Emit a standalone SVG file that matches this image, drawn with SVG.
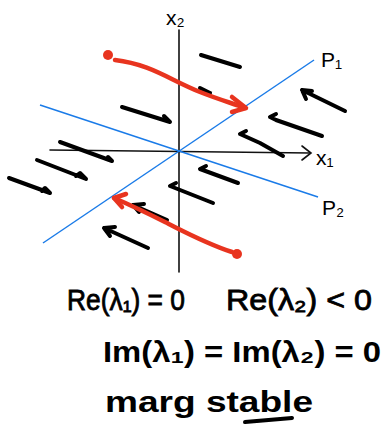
<svg xmlns="http://www.w3.org/2000/svg" width="383" height="433" viewBox="0 0 383 433">
<style>
.ax{stroke:#111;stroke-width:1.6;fill:none;stroke-linecap:round}
.bl{stroke:#1a7be8;stroke-width:1.5;fill:none}
.fl{stroke:#000;stroke-width:4;fill:none;stroke-linecap:round;stroke-linejoin:round}
.rd{stroke:#e8341f;stroke-width:4.5;fill:none;stroke-linecap:round;stroke-linejoin:round}
.t{font-family:"Liberation Sans","DejaVu Sans",Arial,sans-serif;fill:#000}
.m{stroke:#000;stroke-width:0.8}
.b{font-weight:bold}
</style>
<rect width="383" height="433" fill="#fff"/>
<g id="axes">
<line class="ax" x1="179" y1="30" x2="179" y2="272"/>
<line class="ax" x1="50" y1="150" x2="310" y2="153"/>
<path class="ax" d="M302,146 L311,153 L302,160"/>
<text class="t" x="166" y="25" font-size="21">x₂</text>
<text class="t" x="316" y="165" font-size="21">x₁</text>
</g>
<g id="eigenlines">
<line class="bl" x1="43" y1="243" x2="314" y2="60"/>
<line class="bl" x1="40" y1="105" x2="318" y2="197"/>
<text class="t" x="321" y="67" font-size="21">P₁</text>
<text class="t" x="322" y="215" font-size="21">P₂</text>
</g>
<g id="flow">
<path class="fl" d="M201,55 L240,67"/>
<path class="fl" d="M200,88 L210,93"/>
<path class="fl" d="M122,107 L170,122 L164,116"/>
<path class="fl" d="M345,111 L302,90 M302,90 L312,91 M302,90 L306,99"/>
<path class="fl" d="M276,114 L270,117 L276,120 L322,136"/>
<path class="fl" d="M246,131 L240,134 L260,143 L283,156"/>
<path class="fl" d="M60,142 L112,161 L108,157"/>
<path class="fl" d="M37,160 L86,179 L80,173 L76,176"/>
<path class="fl" d="M9,178 L50,193 L45,188 L42,191"/>
<path class="fl" d="M206,166 L200,169 L238,183"/>
<path class="fl" d="M176,183 L170,186 L213,203"/>
<path class="fl" d="M133,205 L167,220 M133,205 L144,204 M133,205 L139,212"/>
<path class="fl" d="M148,248 L104,228 M104,228 L115,227 M104,228 L110,236"/>
</g>
<g id="trajectories">
<circle cx="108" cy="55" r="5" fill="#e8341f"/>
<path class="rd" d="M115,60 C150,64 170,80 200,92 C220,100 235,104 245,108"/>
<path class="rd" d="M232,97 L246,108 L232,112"/>
<circle cx="237" cy="254" r="5" fill="#e8341f"/>
<path class="rd" d="M232,252 C205,243 185,232 165,222 C145,212 128,204 114,198"/>
<path class="rd" d="M126,194 L114,198 L122,207"/>
</g>
<g id="labels">
<text class="t m" x="67" y="310" font-size="29" textLength="118" lengthAdjust="spacingAndGlyphs">Re(λ₁) = 0</text>
<text class="t m" x="226" y="310" font-size="29" textLength="146" lengthAdjust="spacingAndGlyphs">Re(λ₂) &lt; 0</text>
<text class="t b" x="103" y="362" font-size="30" textLength="278" lengthAdjust="spacingAndGlyphs">Im(λ₁) = Im(λ₂) = 0</text>
<text class="t b" x="105" y="412" font-size="30" textLength="208" lengthAdjust="spacingAndGlyphs">marg  stable</text>
<path class="fl" d="M245,422 L292,418"/>
</g>
</svg>
